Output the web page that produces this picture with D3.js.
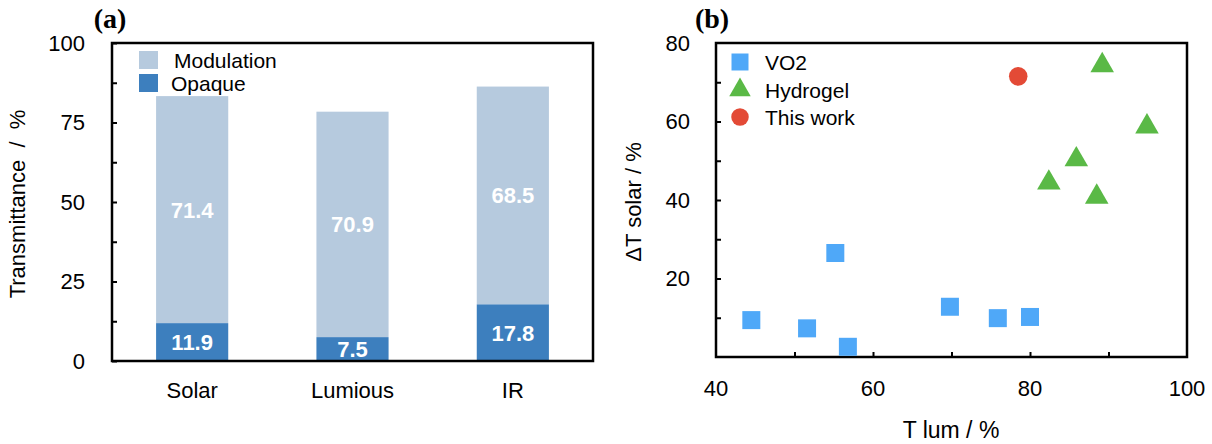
<!DOCTYPE html>
<html>
<head>
<meta charset="utf-8">
<script src="https://cdn.jsdelivr.net/npm/d3@7"></script>
<style>
  html, body { margin: 0; padding: 0; background: #fff; }
  svg { display: block; }
  text { font-family: "Liberation Sans", Arial, Helvetica, sans-serif; fill: #000; }
</style>
</head>
<body>
<svg id="chart" width="1212" height="444"></svg>
<script>
// Panel (a): stacked transmittance bars
const bandNames = ["Solar", "Lumious", "IR"];
const opaqueValues = [11.9, 7.5, 17.8];
const modulationValues = [71.4, 70.9, 68.5];
const barYTicks = [0, 25, 50, 75, 100];

// Panel (b): luminous transmittance vs solar modulation
const vo2Lum = [44.5, 51.6, 56.8, 55.2, 69.8, 75.9, 80.0];
const vo2Solar = [9.4, 7.3, 2.6, 26.5, 12.8, 9.9, 10.2];
const hydrogelLum = [89.2, 94.9, 85.9, 82.4, 88.5];
const hydrogelSolar = [74.3, 58.7, 50.3, 44.4, 40.8];
const thisWorkLum = [78.5];
const thisWorkSolar = [71.5];
const scatterXTicks = [40, 60, 80, 100];
const scatterYTicks = [20, 40, 60, 80];

const colLight = "#b6cade", colDark = "#3d7fbe";
const colVO2 = "#4fa8f8", colGel = "#5ab946", colWork = "#e34a36";

const svg = d3.select("#chart");

// ---------- panel (a) ----------
const A = { left: 112, right: 593, top: 43, bottom: 361 };
const xa = d3.scaleBand().domain(bandNames).range([A.left, A.right]).paddingInner(0.55).paddingOuter(0.275);
const ya = d3.scaleLinear().domain([0, 100]).range([A.bottom, A.top]);
const ga = svg.append("g");

const rows = bandNames.map((n, i) => ({ name: n, opaque: opaqueValues[i], mod: modulationValues[i] }));

// modulation segments (stacked above opaque)
ga.selectAll("rect.mod").data(rows).join("rect")
  .attr("x", d => xa(d.name)).attr("width", xa.bandwidth())
  .attr("y", d => ya(d.opaque + d.mod)).attr("height", d => ya(d.opaque) - ya(d.opaque + d.mod))
  .attr("fill", colLight);
ga.selectAll("rect.op").data(rows).join("rect")
  .attr("x", d => xa(d.name)).attr("width", xa.bandwidth())
  .attr("y", d => ya(d.opaque)).attr("height", d => ya(0) - ya(d.opaque))
  .attr("fill", colDark);

// value labels
const lab = ga.append("g").attr("font-weight", "bold").attr("font-size", 22).attr("text-anchor", "middle");
rows.forEach(d => {
  lab.append("text").attr("x", xa(d.name) + xa.bandwidth() / 2).attr("y", ya(d.opaque + d.mod / 2))
    .attr("dy", "0.36em").style("fill", "#fff").text(d.mod.toFixed(1));
  lab.append("text").attr("x", xa(d.name) + xa.bandwidth() / 2).attr("y", ya(d.opaque / 2))
    .attr("dy", "0.36em").style("fill", "#fff").text(d.opaque.toFixed(1));
});

// axes (a)
const yAxA = d3.axisLeft(ya).tickValues(d3.range(0, 100.1, 12.5)).tickSize(-5).tickFormat(() => "");
ga.append("g").attr("transform", `translate(${A.left},0)`).call(yAxA)
  .call(g => g.select(".domain").remove())
  .call(g => g.selectAll("line").attr("stroke", "#000").attr("stroke-width", 2));
ga.selectAll("text.yt").data(barYTicks).join("text")
  .attr("x", A.left - 27).attr("y", d => ya(d)).attr("dy", "0.36em")
  .attr("text-anchor", "end").attr("font-size", 22).text(d => d);
ga.selectAll("text.xt").data(bandNames).join("text")
  .attr("x", d => xa(d) + xa.bandwidth() / 2).attr("y", 390).attr("dy", "0.36em")
  .attr("text-anchor", "middle").attr("font-size", 22).text(d => d);
ga.append("rect").attr("x", A.left).attr("y", A.top).attr("width", A.right - A.left).attr("height", A.bottom - A.top)
  .attr("fill", "none").attr("stroke", "#000").attr("stroke-width", 2.5);
ga.append("text").attr("transform", `translate(25,${(A.top + A.bottom) / 2 + 2}) rotate(-90)`)
  .attr("text-anchor", "middle").attr("font-size", 22).style("white-space", "pre")
  .text("Transmittance  /  %");
ga.append("text").attr("x", 110).attr("y", 28).attr("text-anchor", "middle")
  .style("font-family", "'Liberation Serif', 'Times New Roman', serif").attr("font-weight", "bold")
  .attr("font-size", 28).text("(a)");

// legend (a)
const legA = [{ t: "Modulation", c: colLight, y: 60, x: 174 }, { t: "Opaque", c: colDark, y: 83, x: 171 }];
legA.forEach(l => {
  ga.append("rect").attr("x", 139).attr("y", l.y - 9).attr("width", 19).attr("height", 18).attr("fill", l.c);
  ga.append("text").attr("x", l.x).attr("y", l.y).attr("dy", "0.36em")
    .attr("font-size", 21).text(l.t);
});

// ---------- panel (b) ----------
const B = { left: 716, right: 1187, top: 43, bottom: 357 };
const xb = d3.scaleLinear().domain([40, 100]).range([B.left, B.right]);
const yb = d3.scaleLinear().domain([0, 80]).range([B.bottom, B.top]);
const gb = svg.append("g");

gb.append("g").attr("transform", `translate(${B.left},0)`)
  .call(d3.axisLeft(yb).tickValues(d3.range(10, 80, 10)).tickSize(-5).tickFormat(() => ""))
  .call(g => g.select(".domain").remove())
  .call(g => g.selectAll("line").attr("stroke", "#000").attr("stroke-width", 2));
gb.append("g").attr("transform", `translate(0,${B.bottom})`)
  .call(d3.axisBottom(xb).tickValues(d3.range(50, 100, 10)).tickSize(-5).tickFormat(() => ""))
  .call(g => g.select(".domain").remove())
  .call(g => g.selectAll("line").attr("stroke", "#000").attr("stroke-width", 2));
gb.selectAll("text.yt").data(scatterYTicks).join("text")
  .attr("x", B.left - 26).attr("y", d => yb(d)).attr("dy", "0.36em")
  .attr("text-anchor", "end").attr("font-size", 22).text(d => d);
gb.selectAll("text.xt").data(scatterXTicks).join("text")
  .attr("x", d => xb(d)).attr("y", 388).attr("dy", "0.36em")
  .attr("text-anchor", "middle").attr("font-size", 22).text(d => d);
gb.append("rect").attr("x", B.left).attr("y", B.top).attr("width", B.right - B.left).attr("height", B.bottom - B.top)
  .attr("fill", "none").attr("stroke", "#000").attr("stroke-width", 2.5);
gb.append("text").attr("x", 951).attr("y", 430).attr("dy", "0.36em").attr("text-anchor", "middle")
  .attr("font-size", 23).text("T lum / %");
gb.append("text").attr("transform", `translate(641,202) rotate(-90)`)
  .attr("text-anchor", "middle").attr("font-size", 22).text("ΔT solar / %");
gb.append("text").attr("x", 712).attr("y", 28).attr("text-anchor", "middle")
  .style("font-family", "'Liberation Serif', 'Times New Roman', serif").attr("font-weight", "bold")
  .attr("font-size", 28).text("(b)");

const sq = d3.symbol().type(d3.symbolSquare).size(324);
const tri = d3.symbol().type(d3.symbolTriangle).size(240);
const cir = d3.symbol().type(d3.symbolCircle).size(270);

gb.selectAll("path.vo2").data(vo2Lum.map((x, i) => [x, vo2Solar[i]])).join("path")
  .attr("d", sq).attr("transform", d => `translate(${xb(d[0])},${yb(d[1])})`).attr("fill", colVO2);
gb.selectAll("path.gel").data(hydrogelLum.map((x, i) => [x, hydrogelSolar[i]])).join("path")
  .attr("d", tri).attr("transform", d => `translate(${xb(d[0])},${yb(d[1])})`).attr("fill", colGel);
gb.selectAll("path.work").data(thisWorkLum.map((x, i) => [x, thisWorkSolar[i]])).join("path")
  .attr("d", cir).attr("transform", d => `translate(${xb(d[0])},${yb(d[1])})`).attr("fill", colWork);

// legend (b)
const legB = [
  { t: "VO2", s: d3.symbol().type(d3.symbolSquare).size(289), c: colVO2, y: 62 },
  { t: "Hydrogel", s: d3.symbol().type(d3.symbolTriangle).size(200), c: colGel, y: 90 },
  { t: "This work", s: d3.symbol().type(d3.symbolCircle).size(240), c: colWork, y: 117 }
];
legB.forEach(l => {
  gb.append("path").attr("d", l.s).attr("transform", `translate(740,${l.y})`).attr("fill", l.c);
  gb.append("text").attr("x", 765).attr("y", l.y).attr("dy", "0.36em").attr("font-size", 21).text(l.t);
});
</script>
</body>
</html>
